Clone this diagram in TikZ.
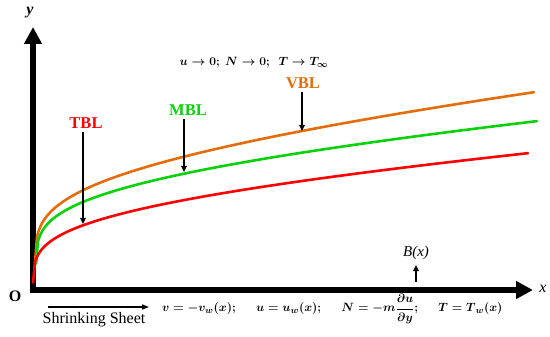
\documentclass[tikz,border=0pt]{standalone}
\usepackage{amsmath,bm}
\usepackage{fontspec}
\setmainfont{Liberation Serif}
\usetikzlibrary{arrows.meta}
\definecolor{cOrange}{RGB}{228,108,10}
\definecolor{cGreen}{RGB}{10,210,10}
\definecolor{cRed}{RGB}{255,0,0}
\begin{document}
\begin{tikzpicture}[x=1pt,y=-1pt,
  axis/.style={line width=6pt,-{Triangle[length=17pt,width=17pt]}},
  curve/.style={line width=2.6pt,line cap=round},
  pointer/.style={line width=1.4pt,-{Triangle[length=6pt,width=5.5pt]}},
  lbl/.style={font=\fontsize{16.5}{18}\selectfont\bfseries,inner sep=0pt},
  eq/.style={font=\fontsize{13}{15}\selectfont\boldmath,inner sep=0pt}]
\useasboundingbox (0,0) rectangle (550,337);
% axes
\coordinate (o) at (33,290);
\coordinate (ytip) at (33,27);
\coordinate (xtip) at (533,290);
\draw[axis] (33,293) -- (ytip);
\draw[axis] (30,290) -- (xtip);
\node[font=\fontsize{16}{18}\selectfont\bfseries\itshape,inner sep=0pt] (ylab) at (30,13) {y};
\node[font=\fontsize{16}{18}\selectfont\itshape,inner sep=0pt] (xlab) at (543,289) {x};
\node[font=\fontsize{16}{18}\selectfont\bfseries,inner sep=0pt] (olab) at (15,296) {O};
% curves
\draw[curve,cOrange] plot[domain=0.01:499,samples=250] ({35+\x},{272-29.6*(\x)^0.25-0.080*\x});
\draw[curve,cGreen] plot[domain=0.01:501,samples=250] ({36+\x},{272-25.7*(\x)^0.25-0.0585*\x});
\draw[curve,cRed] plot[domain=0.01:495,samples=250] ({33+\x},{290-23.3*(\x)^0.25-0.0544*\x});
% labels
\node[lbl,text=cRed] (tbl) at (86,123) {TBL};
\node[lbl,text=cGreen] (mbl) at (188,110) {MBL};
\node[lbl,text=cOrange] (vbl) at (303,83) {VBL};
\coordinate (tblend) at (83,224);
\coordinate (mblend) at (184,172);
\coordinate (vblend) at (302,131);
\draw[pointer] (tbl.south -| tblend) ++(0,3) -- (tblend);
\draw[pointer] (mbl.south -| mblend) ++(0,3) -- (mblend);
\draw[pointer] (vbl.south -| vblend) ++(0,3) -- (vblend);
% top condition
\node[eq,font=\fontsize{12.5}{15}\selectfont\boldmath] (far) at (254,63) {$\bm{u\to 0;\ N\to 0;\ \ T\to T_{\infty}}$};
% B(x)
\node[font=\fontsize{15}{17}\selectfont\itshape,inner sep=0pt] (bx) at (416,253) {B(x)};
\coordinate (bxbase) at (416,282);
\coordinate (bxtip) at (416,265);
\draw[pointer,line width=1.6pt] (bxbase) -- (bxtip);
% shrinking sheet
\node[font=\fontsize{16}{18}\selectfont,inner sep=0pt] (sheet) at (94,320) {Shrinking Sheet};
\coordinate (sheetL) at (48,307);
\coordinate (sheetR) at (149,307);
\draw[line width=1.3pt,-{Triangle[length=7pt,width=5pt]}] (sheetL) -- (sheetR);
% wall conditions
\node[eq,anchor=west] (wall) at (162,309) {$\bm{v=-v_{w}(x);}\hspace{18pt}\bm{u=u_{w}(x);}\hspace{18pt}\bm{N=-m}\dfrac{\bm{\partial u}}{\bm{\partial y}}\bm{;}\hspace{18pt}\bm{T=T_{\,w}(x)}$};
\end{tikzpicture}
\end{document}
